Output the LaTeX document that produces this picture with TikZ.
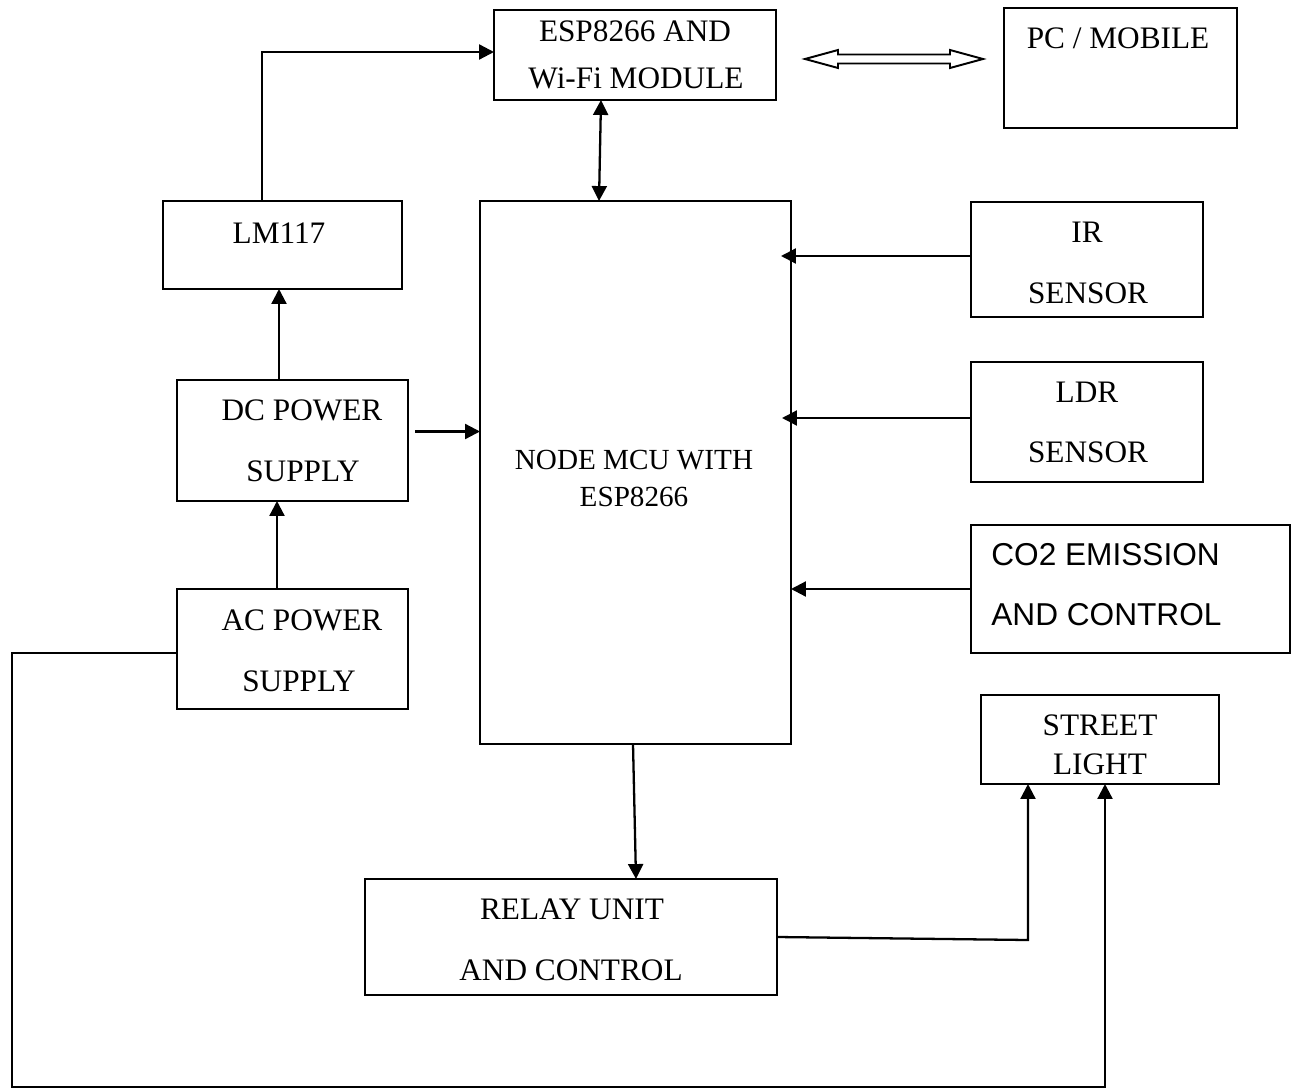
\documentclass[tikz,border=0pt]{standalone}
\usepackage{fontspec}
\setmainfont{Liberation Serif}
\newfontfamily\arialfont{Liberation Sans}
\usetikzlibrary{arrows.meta,fit,calc}
\begin{document}
\begin{tikzpicture}[x=0.02cm,y=-0.02cm,
  box/.style={draw,line width=1.3pt,inner sep=0pt,outer sep=0pt},
  txt/.style={inner sep=0pt,anchor=base,font=\fontsize{17.8}{20}\selectfont},
  mcutxt/.style={txt,font=\fontsize{16.6}{19}\selectfont},
  sanstxt/.style={inner sep=0pt,anchor=base west,font=\arialfont\fontsize{18}{21}\selectfont},
  conn/.style={line width=1.3pt},
  arr/.style={conn,-{Triangle[length=8.5pt,width=8.5pt]}},
  darr/.style={conn,{Triangle[length=8.5pt,width=8.5pt]}-{Triangle[length=8.5pt,width=8.5pt]}}]
\useasboundingbox[fill=white] (0,0) rectangle (1291,1091);

% boxes
\node[box,fit={(494,10) (776,100)}] (esp) {};
\node[box,fit={(1004,8) (1237,128)}] (pc) {};
\node[box,fit={(163,201) (402,289)}] (lm) {};
\node[box,fit={(480,201) (791,744)}] (mcu) {};
\node[box,fit={(971,202) (1203,317)}] (ir) {};
\node[box,fit={(971,362) (1203,482)}] (ldr) {};
\node[box,fit={(971,525) (1290,653)}] (co) {};
\node[box,fit={(177,380) (408,501)}] (dc) {};
\node[box,fit={(177,589) (408,709)}] (ac) {};
\node[box,fit={(981,695) (1219,784)}] (sl) {};
\node[box,fit={(365,879) (777,995)}] (relay) {};

% texts
\node[txt] (espA) at (635,42) {ESP8266 AND};
\node[txt] (espB) at (636,89) {Wi-Fi MODULE};
\node[txt] (pcA) at (1118,49) {PC / MOBILE};
\node[txt] (lmA) at (279,243) {LM117};
\node[mcutxt] (mcuA) at (634,469) {NODE MCU WITH};
\node[mcutxt] (mcuB) at (634,506) {ESP8266};
\node[txt] (irA) at (1087,242) {IR};
\node[txt] (irB) at (1088,303) {SENSOR};
\node[txt] (ldrA) at (1087,402) {LDR};
\node[txt] (ldrB) at (1088,462) {SENSOR};
\node[sanstxt] (coA) at (991,565) {CO2 EMISSION};
\node[sanstxt] (coB) at (991,625) {AND CONTROL};
\node[txt] (dcA) at (302,420) {DC POWER};
\node[txt] (dcB) at (303,481) {SUPPLY};
\node[txt] (acA) at (302,630) {AC POWER};
\node[txt] (acB) at (299,691) {SUPPLY};
\node[txt] (slA) at (1100,735) {STREET};
\node[txt] (slB) at (1100,774) {LIGHT};
\node[txt] (rlA) at (572,919) {RELAY UNIT};
\node[txt] (rlB) at (571,980) {AND CONTROL};

% double open arrow between ESP and PC
\coordinate (dl) at (805,59);
\coordinate (dr) at (983,59);
\draw[line width=1.1pt,line join=miter] (dl) -- (838,50) -- (838,54.5) -- (950,54.5) -- (950,50) -- (dr)
  -- (950,68) -- (950,63.5) -- (838,63.5) -- (838,68) -- cycle;

% connectors
\coordinate (lmup) at (262,52);
\draw[arr] (262,0 |- lm.north) -- (lmup) -- (lmup -| esp.west);
\draw[darr] (601,0 |- esp.south) -- (599,0 |- mcu.north);
\draw[arr] (279,0 |- dc.north) -- (279,0 |- lm.south);
\draw[arr] (277,0 |- ac.north) -- (277,0 |- dc.south);
\draw[arr] ($(dc.east)+(7,-9)$) -- ($(dc.east -| mcu.west)+(0,-9)$);
\draw[arr] (ir.west |- 0,256) -- ($(mcu.east |- 0,256)+(-10,0)$);
\draw[arr] (ldr.west |- 0,418) -- ($(mcu.east |- 0,418)+(-9,0)$);
\draw[arr] (co.west |- 0,589) -- (mcu.east |- 0,589);
\draw[arr] (633,0 |- mcu.south) -- (636,0 |- relay.north);
\coordinate (rc) at (1028,940);
\draw[arr] (relay.east |- 0,937) -- (rc) -- (rc |- sl.south);
\coordinate (c1) at (12,653);
\coordinate (c2) at (12,1087);
\coordinate (c3) at (1105,1087);
\draw[arr] (ac.west |- c1) -- (c1) -- (c2) -- (c3) -- (c3 |- sl.south);
\end{tikzpicture}
\end{document}
